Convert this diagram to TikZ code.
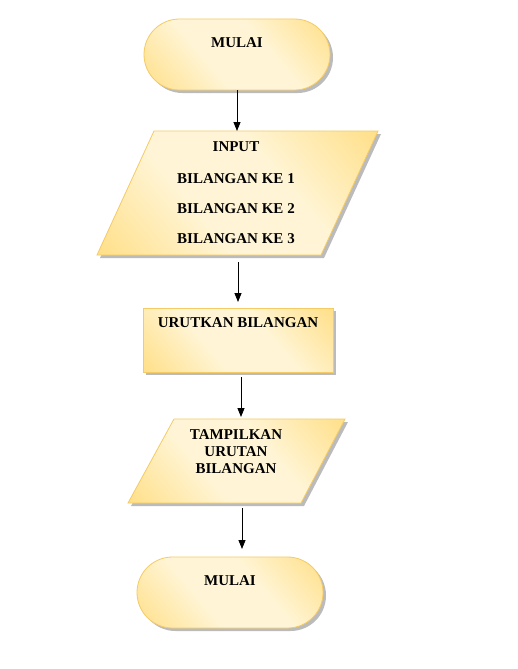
\documentclass[tikz,border=0pt]{standalone}
\usepackage{fontspec}
\setmainfont{Liberation Serif}
\usetikzlibrary{arrows.meta,shadows,calc}
\definecolor{gold}{RGB}{255,210,90}
\definecolor{cream}{RGB}{255,245,214}
\definecolor{edgegold}{RGB}{244,203,100}
\definecolor{shadowgray}{RGB}{170,170,170}
\pgfdeclarehorizontalshading{goldshade}{100bp}{color(0bp)=(gold); color(40bp)=(cream); color(60bp)=(cream); color(100bp)=(gold)}
\tikzset{
  boxlook/.style={draw=edgegold, line width=0.8pt, shading=goldshade, shading angle=40,
    drop shadow={shadow xshift=3pt, shadow yshift=-3pt, fill=shadowgray, opacity=0.8}},
  term/.style={boxlook, rectangle, rounded corners=35.5pt, minimum width=186pt, minimum height=71pt, inner sep=0pt},
  procbox/.style={boxlook, rectangle, minimum width=190pt, minimum height=64pt, inner sep=0pt},
  txt/.style={font=\fontsize{15}{17}\selectfont\bfseries, inner sep=0pt, align=center},
  arr/.style={-{Triangle[length=9pt,width=7pt]}, line width=0.8pt, black}
}
\begin{document}
\begin{tikzpicture}[x=1pt,y=-1pt]
\useasboundingbox[fill=white] (0,0) rectangle (518,669);
% start
\node[term] (t1) at (237,54.5) {};
\node[txt] (t1txt) at (237,43) {MULAI};
% input parallelogram
\coordinate (in1top) at (237,131);
\coordinate (in1bot) at (238,262);
\path[boxlook] (154,131) -- (378,131) -- (321,255) -- (97,255) -- cycle;
\node[txt] (in1a) at (236,147) {INPUT};
\node[txt] (in1b) at (236,179) {BILANGAN KE 1};
\node[txt] (in1c) at (236,209) {BILANGAN KE 2};
\node[txt] (in1d) at (236,239) {BILANGAN KE 3};
% process
\node[procbox] (r1) at (238,340) {};
\node[txt] (r1txt) at (238,323) {URUTKAN BILANGAN};
\coordinate (r1top) at (238,302);
\coordinate (r1bot) at (241,377);
% output parallelogram
\coordinate (out1top) at (241,417);
\coordinate (out1bot) at (242,508);
\path[boxlook] (174,419) -- (345,419) -- (301,503) -- (128,503) -- cycle;
\node[txt] (out1a) at (236,435) {TAMPILKAN};
\node[txt] (out1b) at (236,452) {URUTAN};
\node[txt] (out1c) at (236,469) {BILANGAN};
% end
\node[term] (t2) at (230,592.5) {};
\node[txt] (t2txt) at (230,581) {MULAI};
\coordinate (t2top) at (242,549);
% connectors
\draw[arr] (t1.south) -- (in1top);
\draw[arr] (in1bot) -- (r1top);
\draw[arr] (r1bot) -- (out1top);
\draw[arr] (out1bot) -- (t2top);
\end{tikzpicture}
\end{document}
